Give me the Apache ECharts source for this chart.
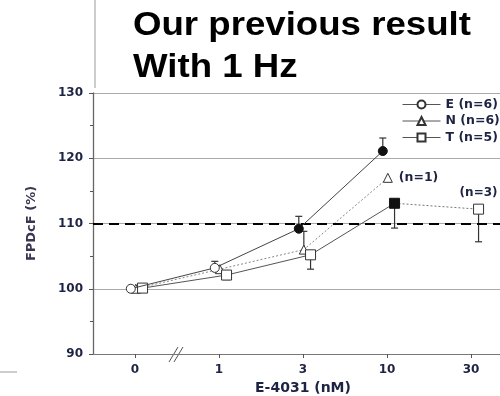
<!DOCTYPE html>
<html><head><meta charset="utf-8">
<script src="https://cdn.jsdelivr.net/npm/echarts@6/dist/echarts.min.js"></script>
<style>html,body{margin:0;padding:0;background:#fff}#c{width:500px;height:396px}</style>
</head><body><div id="c"></div>
<script>
// ---- data ----
const categories = ['0', '1', '3', '10', '30'];
const eValues = [100, 103.2, 109.2, 121.1, null];
const nValues = [100, 103, 106, 117, null];
const tValues = [100.1, 102.1, 105.2, 113.1, 112.2];
const eFilled = [false, false, true, true, false];
const tFilled = [false, false, false, true, false];
const eErrors = [0, 1, 1.9, 2, 0];
const nErrors = [0, 0, 2.8, 0, 0];
const tErrors = [0, -0.7, -2.2, -3.8, -5];
const legendNames = ['E (n=6)', 'N (n=6)', 'T (n=5)'];
const noteN = '(n=1)';
const noteT = '(n=3)';
const thresholdValue = 110;
const titleLines = ['Our previous result', 'With 1 Hz'];
const yName = 'FPDcF (%)';
const xName = 'E-4031 (nM)';

// ---- styling ----
const offE = -0.05, offN = 0.01, offT = 0.09;
const FONT = 'Liberation Sans, Arial, sans-serif';
const LFONT = 'DejaVu Sans, sans-serif';
const txtColor = '#1d2343';
const openItem = { color: '#fff', borderColor: '#333', borderWidth: 1 };
const filledItem = { color: '#111', borderColor: '#111', borderWidth: 1 };

function pts(vals, off, filled, upto) {
  const out = [];
  vals.forEach((v, i) => {
    if (v == null || (upto != null && i > upto)) return;
    const d = { value: [i + off, v] };
    if (filled && filled[i]) d.itemStyle = filledItem;
    out.push(d);
  });
  return out;
}
function errData(vals, errs, off) {
  const out = [];
  vals.forEach((v, i) => {
    if (v == null || !errs[i]) return;
    out.push([i + off, v, v + errs[i]]);
  });
  return out;
}

const chart = echarts.init(document.getElementById('c'), null, { renderer: 'canvas' });

const nData = pts(nValues, offN, null);
nData[3].label = { show: true, position: 'right', distance: 6, formatter: noteN,
  color: txtColor, fontSize: 12.5, fontWeight: 'bold', fontFamily: LFONT };

const tExt = [
  { value: [3 + offT, tValues[3]], symbol: 'none' },
  { value: [4 + offT, tValues[4]], itemStyle: openItem,
    label: { show: true, position: 'top', distance: 5, formatter: noteT,
      color: txtColor, fontSize: 12, fontWeight: 'bold', fontFamily: LFONT } }
];

const errRender = function (params, api) {
  const x = api.value(0), y0 = api.value(1), y1 = api.value(2);
  const p0 = api.coord([x, y0]), p1 = api.coord([x, y1]);
  const style = { stroke: '#333', lineWidth: 1.2 };
  return { type: 'group', children: [
    { type: 'line', shape: { x1: p0[0], y1: p0[1], x2: p1[0], y2: p1[1] }, style },
    { type: 'line', shape: { x1: p1[0] - 3.5, y1: p1[1], x2: p1[0] + 3.5, y2: p1[1] }, style }
  ] };
};

chart.setOption({
  animation: false,
  backgroundColor: '#fff',
  textStyle: { fontFamily: LFONT },
  legend: {
    orient: 'vertical', left: 397, top: 93, itemWidth: 38, itemHeight: 10, itemGap: 3.5,
    data: legendNames,
    textStyle: { fontSize: 12.5, fontWeight: 'bold', color: txtColor, fontFamily: LFONT },
    lineStyle: { type: 'solid', color: '#555', width: 1 }
  },
  grid: { left: 93, right: -13, top: 93, bottom: 42, outerBoundsMode: 'none' },
  xAxis: {
    type: 'value', min: -0.5, max: 4.5,
    name: xName, nameLocation: 'middle', nameGap: 27,
    nameTextStyle: { fontSize: 14, fontWeight: 'bold', color: txtColor, fontFamily: LFONT },
    axisLine: { onZero: false, lineStyle: { color: '#777', width: 1.2 } },
    axisTick: { customValues: [0, 1, 2, 3, 4], length: 4, lineStyle: { color: '#555' } },
    axisLabel: { customValues: [0, 1, 2, 3, 4], formatter: v => categories[Math.round(v)],
      margin: 10, fontSize: 12, fontWeight: 'bold', color: txtColor, fontFamily: LFONT },
    splitLine: { show: false }
  },
  yAxis: {
    type: 'value', min: 90, max: 130, interval: 10,
    name: yName, nameLocation: 'middle', nameGap: 55, nameRotate: 90,
    nameTextStyle: { fontSize: 13, fontWeight: 'bold', color: '#3a3550', fontFamily: LFONT },
    axisLine: { show: true, onZero: false, lineStyle: { color: '#666', width: 1.3 } },
    axisTick: { show: true, length: 4, lineStyle: { color: '#555' } },
    minorTick: { show: true, splitNumber: 2, length: 3, lineStyle: { color: '#555' } },
    axisLabel: { margin: 10, fontSize: 12, fontWeight: 'bold', color: txtColor, fontFamily: LFONT },
    splitLine: { show: true, lineStyle: { color: '#aaa', width: 1 } }
  },
  series: [
    { type: 'custom', renderItem: errRender, data: errData(eValues, eErrors, offE), z: 1, silent: true },
    { type: 'custom', renderItem: errRender, data: errData(nValues, nErrors, offN), z: 1, silent: true },
    { type: 'custom', renderItem: errRender, data: errData(tValues, tErrors, offT), z: 1, silent: true },
    {
      name: legendNames[0], type: 'line', z: 5, symbol: 'circle', symbolSize: 9,
      data: pts(eValues, offE, eFilled),
      lineStyle: { color: '#444', width: 1 }, itemStyle: openItem,
      markLine: { silent: true, symbol: ['none', 'none'], label: { show: false },
        lineStyle: { color: '#000', width: 2, type: [10, 6] },
        data: [{ yAxis: thresholdValue }] }
    },
    {
      name: legendNames[1], type: 'line', z: 3, symbol: 'triangle', symbolSize: 9,
      data: nData,
      lineStyle: { color: '#888', width: 1, type: [2, 2] }, itemStyle: openItem
    },
    {
      name: legendNames[2], type: 'line', z: 4, symbol: 'rect', symbolSize: 10,
      data: pts(tValues, offT, tFilled, 3),
      lineStyle: { color: '#555', width: 1 }, itemStyle: openItem
    },
    {
      name: 'T-ext', type: 'line', z: 4, symbol: 'rect', symbolSize: 10,
      data: tExt,
      lineStyle: { color: '#777', width: 1, type: [2, 2] }, itemStyle: openItem
    }
  ]
});

// decorations: title, axis break and slide frame lines
const bp = chart.convertToPixel({ gridIndex: 0 }, [0.5, 90]);
chart.setOption({
  graphic: [
    { type: 'text', x: 133, y: 9, scaleX: 1.11, style: { text: titleLines[0], font: 'bold 33px ' + FONT, fill: '#000' } },
    { type: 'text', x: 133, y: 51, scaleX: 1.11, style: { text: titleLines[1], font: 'bold 33px ' + FONT, fill: '#000' } },
    { type: 'line', shape: { x1: 95, y1: 0, x2: 95, y2: 88 }, style: { stroke: '#999', lineWidth: 1 } },
    { type: 'line', shape: { x1: 0, y1: 372, x2: 17, y2: 372 }, style: { stroke: '#999', lineWidth: 1 } },
    { type: 'line', shape: { x1: bp[0] - 8, y1: bp[1] + 8, x2: bp[0] + 1, y2: bp[1] - 7 }, style: { stroke: '#555', lineWidth: 1 } },
    { type: 'line', shape: { x1: bp[0] - 3, y1: bp[1] + 8, x2: bp[0] + 6, y2: bp[1] - 7 }, style: { stroke: '#555', lineWidth: 1 } }
  ]
});
</script></body></html>
